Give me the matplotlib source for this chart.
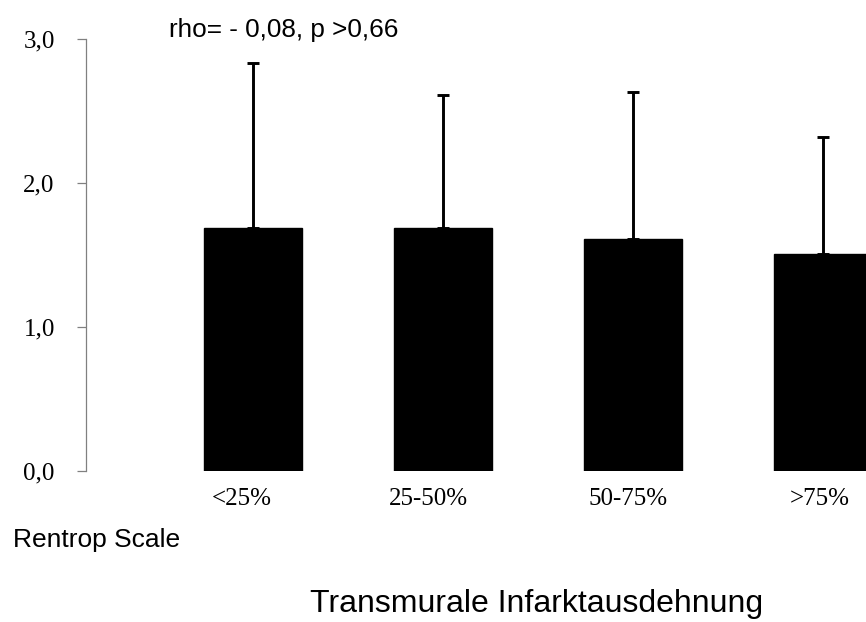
import matplotlib
matplotlib.use('Agg')
from matplotlib import pyplot as plt

# Daten
kategorien = ['<25%', '25-50%', '50-75%', '>75%']
mittelwerte = [1.69, 1.69, 1.61, 1.51]
fehler = [1.14, 0.92, 1.02, 0.81]
y_ticks = [0.0, 1.0, 2.0, 3.0]
y_labels = ['0,0', '1,0', '2,0', '3,0']


def plotDemo():
    fig = plt.figure(figsize=(8.66, 6.22), dpi=100)
    ax = fig.add_axes([86 / 866, 151 / 622, 780 / 866, 432 / 622])

    x = list(range(len(kategorien)))
    ax.bar(x, mittelwerte, width=0.52, color='black', edgecolor='black')
    ax.errorbar(x, mittelwerte, yerr=[[0] * len(fehler), fehler], fmt='none',
                ecolor='black', elinewidth=2.1, capsize=4.5, capthick=2.1)

    ax.set_xlim(-0.879, 3.226)
    ax.set_ylim(0, 3.0)
    ax.set_yticks(y_ticks)
    ax.set_yticklabels(y_labels, family='Liberation Serif', fontsize=18)

    # Beschriftungen leicht nach links versetzt wie im Original
    versatz = [-0.058, -0.079, -0.026, -0.016]
    ax.set_xticks([xi + d for xi, d in zip(x, versatz)])
    ax.set_xticklabels(kategorien, family='Liberation Serif', fontsize=18)

    for s in ['top', 'right', 'bottom']:
        ax.spines[s].set_visible(False)
    ax.spines['left'].set_color('#808080')
    ax.spines['left'].set_linewidth(0.9)
    ax.tick_params(axis='y', direction='out', length=6.5, width=0.9,
                   color='#808080', pad=16)
    ax.tick_params(axis='x', length=0, pad=12)

    # Texte
    fig.text(169 / 866, 1 - 30 / 622, 'rho= - 0,08, p >0,66',
             family='Liberation Sans', fontsize=18.8, va='center', ha='left')
    fig.text(13 / 866, 1 - 540 / 622, 'Rentrop Scale',
             family='Liberation Sans', fontsize=19, va='center', ha='left')
    fig.text(537 / 866, 1 - 604 / 622, 'Transmurale Infarktausdehnung',
             family='Liberation Sans', fontsize=23, va='center', ha='center')

    fig.savefig('out.png', dpi=100)


if __name__ == '__main__':
    plotDemo()
